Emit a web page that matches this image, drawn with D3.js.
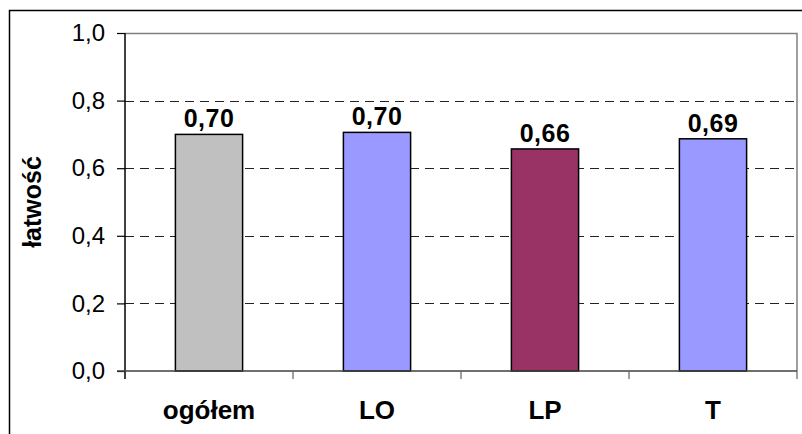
<!DOCTYPE html>
<html>
  <head>
    <meta charset="utf-8">
    <title>łatwość</title>
    <style>
      body { margin: 0; background: #fff; }
      text { font-family: "Liberation Sans", Arial, sans-serif; }
    </style>
  </head>
  <body>
    <svg width="802" height="434"></svg>

    <script src="https://cdn.jsdelivr.net/npm/d3@7"></script>
    <script>

      var categories = ["ogółem", "LO", "LP", "T"];
      var values = [0.700, 0.706, 0.657, 0.687];
      var valueLabels = ["0,70", "0,70", "0,66", "0,69"];
      var barColors = ["#C0C0C0", "#9999FF", "#993366", "#9999FF"];
      var yTicks = [0, 0.2, 0.4, 0.6, 0.8, 1.0];
      var yTickLabels = ["0,0", "0,2", "0,4", "0,6", "0,8", "1,0"];

      var svg = d3.select("svg"),
        margin = { top: 33, right: 5, bottom: 63, left: 125 },
        width = +svg.attr("width"),
        height = +svg.attr("height");

      // outer frame (only left and top visible in the picture)
      svg.append("rect")
        .attr("x", 9.5).attr("y", 10.5)
        .attr("width", width + 20).attr("height", height + 20)
        .attr("fill", "none")
        .attr("stroke", "#000")
        .attr("stroke-width", 1.5);

      var x = d3.scaleBand()
        .domain(categories)
        .range([margin.left, width - margin.right])
        .paddingInner(0.6)
        .paddingOuter(0.3);

      var xCat = d3.scaleBand()
        .domain(categories)
        .range([margin.left, width - margin.right]);

      var y = d3.scaleLinear()
        .domain([0, 1])
        .range([height - margin.bottom, margin.top]);

      // grid
      svg.append("g")
        .selectAll("line")
        .data(yTicks.slice(1, -1))
        .enter().append("line")
        .attr("x1", margin.left)
        .attr("x2", width - margin.right)
        .attr("y1", function (d) { return Math.round(y(d)) + 0.5; })
        .attr("y2", function (d) { return Math.round(y(d)) + 0.5; })
        .attr("stroke", "#222")
        .attr("stroke-dasharray", "9,6");

      // plot frame top/right
      svg.append("path")
        .attr("d", "M" + margin.left + "," + (y(1) + 0.5) + "H" + (width - margin.right) + "V" + y(0))
        .attr("fill", "none")
        .attr("stroke", "#808080")
        .attr("stroke-width", 1.5);

      // bars
      svg.append("g")
        .selectAll("rect")
        .data(values)
        .enter().append("rect")
        .attr("x", function (d, i) { return x(categories[i]); })
        .attr("width", x.bandwidth())
        .attr("y", function (d) { return y(d); })
        .attr("height", function (d) { return y(0) - y(d); })
        .attr("fill", function (d, i) { return barColors[i]; })
        .attr("stroke", "#000")
        .attr("stroke-width", 1.5);

      // value labels
      svg.append("g")
        .selectAll("text")
        .data(values)
        .enter().append("text")
        .attr("x", function (d, i) { return x(categories[i]) + x.bandwidth() / 2; })
        .attr("y", function (d) { return y(d) - 7; })
        .attr("text-anchor", "middle")
        .attr("font-size", 25)
        .attr("letter-spacing", 0.5)
        .attr("font-weight", "bold")
        .text(function (d, i) { return valueLabels[i]; });

      // y axis
      var yAxis = svg.append("g")
        .attr("transform", "translate(" + margin.left + ",0)")
        .call(d3.axisLeft(y)
          .tickValues(yTicks)
          .tickSize(8)
          .tickPadding(12)
          .tickFormat(function (d, i) { return yTickLabels[i]; }));
      yAxis.select(".domain").attr("stroke", "#000").attr("stroke-width", 1.5)
        .attr("d", "M0," + y(1) + "V" + (y(0) + 8));
      yAxis.selectAll("line").attr("stroke", "#000").attr("stroke-width", 1.2);
      yAxis.selectAll("text")
        .attr("font-size", 24)
        .attr("fill", "#000")
        .attr("font-family", "'Liberation Sans', Arial, sans-serif");

      // x axis
      var xAxis = svg.append("g")
        .attr("transform", "translate(0," + y(0) + ")");
      xAxis.append("line")
        .attr("x1", margin.left - 8).attr("x2", width - margin.right)
        .attr("stroke", "#404040").attr("stroke-width", 1.5);
      xAxis.selectAll(".tk")
        .data(categories.slice(1).concat(["end"]))
        .enter().append("line")
        .attr("class", "tk")
        .attr("x1", function (d) { return d === "end" ? width - margin.right : xCat(d); })
        .attr("x2", function (d) { return d === "end" ? width - margin.right : xCat(d); })
        .attr("y1", 0).attr("y2", 8)
        .attr("stroke", "#606060").attr("stroke-width", 1.2);
      xAxis.selectAll(".lbl")
        .data(categories)
        .enter().append("text")
        .attr("class", "lbl")
        .attr("x", function (d) { return xCat(d) + xCat.bandwidth() / 2; })
        .attr("y", 48)
        .attr("text-anchor", "middle")
        .attr("font-size", 26)
        .attr("font-weight", "bold")
        .text(function (d) { return d; });

      // y title
      svg.append("text")
        .attr("transform", "translate(41," + ((y(0) + y(1)) / 2) + ") rotate(-90)")
        .attr("text-anchor", "middle")
        .attr("font-size", 25)
        .attr("font-weight", "bold")
        .text("łatwość");

    </script>
  </body>
</html>
